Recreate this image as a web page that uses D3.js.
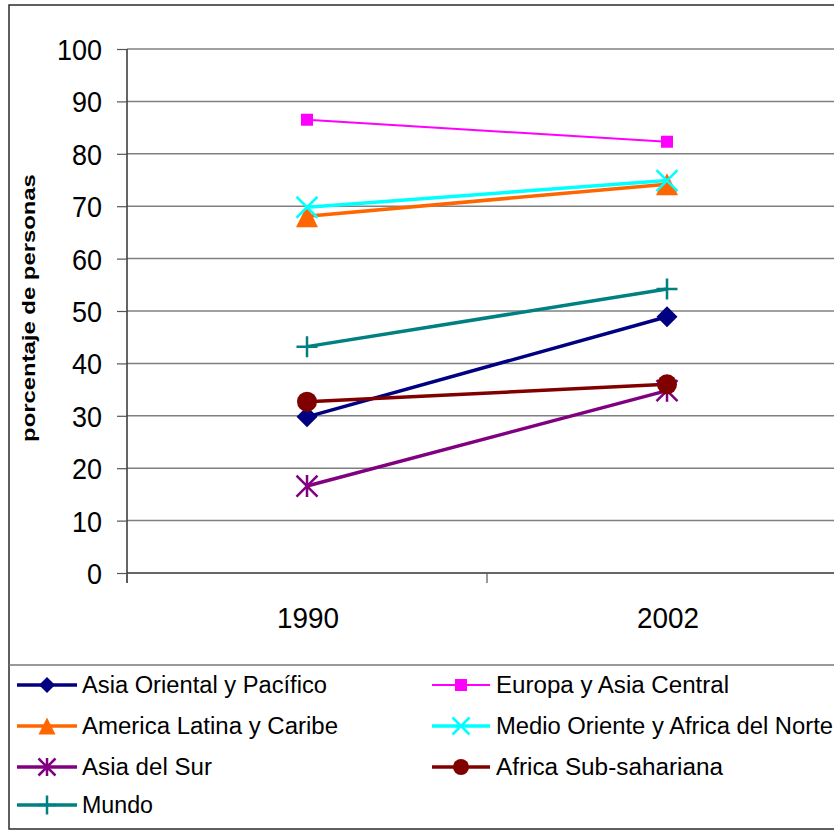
<!DOCTYPE html>
<html>
<head>
<meta charset="utf-8">
<script src="https://cdn.jsdelivr.net/npm/d3@7"></script>
<style>
  body { margin: 0; background: #fff; }
  svg { display: block; font-family: "Liberation Sans", Arial, sans-serif; }
</style>
</head>
<body>
<svg id="chart" width="834" height="831"></svg>
<script>
// Categories and tick labels
const years = ["1990", "2002"];
const yTicks = [0, 10, 20, 30, 40, 50, 60, 70, 80, 90, 100];

// Series names (legend order, row by row)
const regionNames = [
  "Asia Oriental y Pacífico",
  "Europa y Asia Central",
  "America Latina y Caribe",
  "Medio Oriente y Africa del Norte",
  "Asia del Sur",
  "Africa Sub-sahariana",
  "Mundo"
];

// Series values (percentage of people), 1990 and 2002
const asiaOrientalPacifico = [29.8, 48.9];
const europaAsiaCentral = [86.5, 82.3];
const americaLatinaCaribe = [68.1, 74.2];
const medioOrienteAfricaNorte = [69.8, 74.9];
const asiaDelSur = [16.6, 34.8];
const africaSubsahariana = [32.7, 36.0];
const mundo = [43.2, 54.2];

const seriesValues = [
  asiaOrientalPacifico, europaAsiaCentral, americaLatinaCaribe,
  medioOrienteAfricaNorte, asiaDelSur, africaSubsahariana, mundo
];

// Appearance of each series
const seriesColors = ["#000080", "#FF00FF", "#FF6600", "#00FFFF", "#800080", "#800000", "#008080"];
const seriesMarkers = ["diamond", "square", "triangle", "cross", "asterisk", "circle", "plus"];
const seriesWidths = [3.5, 2, 3.5, 3.5, 3.5, 3.5, 3.5];

const svg = d3.select("#chart");

// Outer chart frame
svg.append("rect")
  .attr("x", 9).attr("y", 5).attr("width", 840).attr("height", 824)
  .attr("fill", "#fff").attr("stroke", "#2b2b2b").attr("stroke-width", 1.5);

// Scales
const x = d3.scalePoint().domain(years).range([127, 847]).padding(0.5);
const y = d3.scaleLinear().domain([0, 100]).range([573, 49]);

// Horizontal gridlines
svg.append("g")
  .selectAll("line")
  .data(yTicks.filter(d => d > 0))
  .join("line")
  .attr("x1", 127).attr("x2", 847)
  .attr("y1", d => y(d)).attr("y2", d => y(d))
  .attr("stroke", "#808080").attr("stroke-width", 1.5);

// Y axis
const yAxis = svg.append("g")
  .attr("transform", "translate(127,0)")
  .call(d3.axisLeft(y).tickValues(yTicks).tickSize(10).tickPadding(0).tickFormat(d3.format("d")));
yAxis.select(".domain").attr("stroke", "#333").attr("stroke-width", 1.5)
  .attr("d", `M0,${y(100)}V${y(0) + 10}`);
yAxis.selectAll(".tick line").attr("stroke", "#555").attr("stroke-width", 1.2);
yAxis.selectAll(".tick text")
  .attr("x", -25)
  .attr("dy", "0.36em")
  .attr("fill", "#000")
  .style("font-size", "29px")
  .attr("font-family", "Liberation Sans, Arial, sans-serif")
  .attr("textLength", d => String(d).length * 15)
  .attr("lengthAdjust", "spacingAndGlyphs");

// X axis (category boundaries carry the ticks)
const xBand = d3.scaleBand().domain(years).range([127, 847]);
const xAxisG = svg.append("g");
xAxisG.append("line")
  .attr("x1", 127).attr("x2", 847).attr("y1", y(0)).attr("y2", y(0))
  .attr("stroke", "#333").attr("stroke-width", 1.5);
xAxisG.selectAll("line.cat-tick")
  .data(years.map(d => xBand(d)).concat([xBand(years[years.length - 1]) + xBand.bandwidth()]))
  .join("line")
  .attr("class", "cat-tick")
  .attr("x1", d => d).attr("x2", d => d)
  .attr("y1", y(0)).attr("y2", y(0) + 10)
  .attr("stroke", "#555").attr("stroke-width", 1.2);
xAxisG.selectAll("text")
  .data(years)
  .join("text")
  .attr("x", d => x(d) + 1)
  .attr("y", 628)
  .attr("text-anchor", "middle")
  .attr("fill", "#000")
  .style("font-size", "29px")
  .attr("textLength", d => d.length * 15.5)
  .attr("lengthAdjust", "spacingAndGlyphs")
  .text(d => d);

// Y axis title, stretched along its reading direction
const yTitle = svg.append("text")
  .attr("text-anchor", "middle")
  .attr("font-weight", "bold")
  .style("font-size", "18px")
  .text("porcentaje de personas");
const titleLen = yTitle.node().getComputedTextLength();
yTitle.attr("transform", `translate(35,308) rotate(-90) scale(${268 / titleLen},1)`);

// Marker shapes
function markerPath(type, r) {
  switch (type) {
    case "diamond": return `M0,${-r}L${r},0L0,${r}L${-r},0Z`;
    case "square": return `M${-r},${-r}H${r}V${r}H${-r}Z`;
    case "triangle": return `M0,${-r}L${r},${r}L${-r},${r}Z`;
    case "cross": return `M${-r},${-r}L${r},${r}M${r},${-r}L${-r},${r}`;
    case "asterisk": return `M${-r},${-r}L${r},${r}M${r},${-r}L${-r},${r}M0,${-r * 1.05}V${r * 1.05}`;
    case "plus": return `M${-r},0H${r}M0,${-r}V${r}`;
    case "circle": return `M${r},0A${r},${r} 0 1,1 ${-r},0A${r},${r} 0 1,1 ${r},0Z`;
  }
}
const filledMarkers = new Set(["diamond", "square", "triangle", "circle"]);
const plotMarkerSize = { diamond: 10.5, square: 6, triangle: 11, cross: 10.5, asterisk: 10.5, plus: 10.5, circle: 10 };
const legendMarkerSize = { diamond: 8, square: 6, triangle: 8.5, cross: 8.5, asterisk: 8.5, plus: 9.5, circle: 8 };

function drawMarker(g, type, color, r) {
  const p = g.append("path").attr("d", markerPath(type, r));
  if (filledMarkers.has(type)) p.attr("fill", color).attr("stroke", "none");
  else p.attr("fill", "none").attr("stroke", color).attr("stroke-width", 2.5);
}

// Series lines and markers, drawn in series order
const line = d3.line().x((d, i) => x(years[i])).y(d => y(d));
seriesValues.forEach((vals, si) => {
  const g = svg.append("g");
  g.append("path")
    .datum(vals)
    .attr("d", line)
    .attr("fill", "none")
    .attr("stroke", seriesColors[si])
    .attr("stroke-width", seriesWidths[si]);
  vals.forEach((v, i) => {
    const mg = g.append("g").attr("transform", `translate(${x(years[i])},${y(v)})`);
    drawMarker(mg, seriesMarkers[si], seriesColors[si], plotMarkerSize[seriesMarkers[si]]);
  });
});

// Legend box
svg.append("line")
  .attr("x1", 9).attr("x2", 849).attr("y1", 665).attr("y2", 665)
  .attr("stroke", "#777").attr("stroke-width", 1.5);

const legendCols = [{ x0: 17, x1: 77, tx: 82 }, { x0: 432, x1: 490, tx: 496 }];
const legendRows = [685, 726, 767, 805];
const legendTextWidths = [245, 233, 256, 337, 130, 227, 71];

regionNames.forEach((name, si) => {
  const col = legendCols[si % 2];
  const cy = legendRows[Math.floor(si / 2)];
  const g = svg.append("g");
  g.append("line")
    .attr("x1", col.x0).attr("x2", col.x1).attr("y1", cy).attr("y2", cy)
    .attr("stroke", seriesColors[si]).attr("stroke-width", seriesWidths[si]);
  const mg = g.append("g").attr("transform", `translate(${(col.x0 + col.x1) / 2},${cy})`);
  drawMarker(mg, seriesMarkers[si], seriesColors[si], legendMarkerSize[seriesMarkers[si]]);
  g.append("text")
    .attr("x", col.tx)
    .attr("y", cy + 8)
    .attr("fill", "#000")
    .style("font-size", "23px")
    .attr("textLength", legendTextWidths[si])
    .attr("lengthAdjust", "spacingAndGlyphs")
    .text(name);
});
</script>
</body>
</html>
